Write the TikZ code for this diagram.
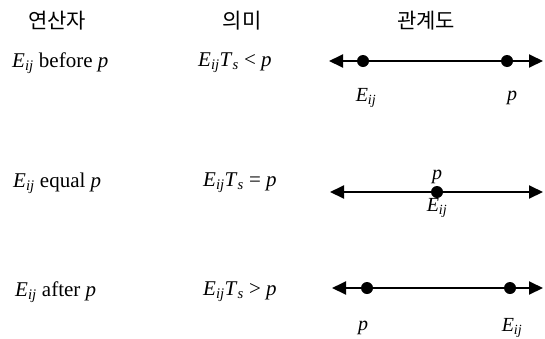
\documentclass[tikz,border=0pt]{standalone}
\usepackage{fontspec}
\setmainfont{Liberation Serif}
\newfontfamily\krfont{Noto Sans CJK KR}
\usetikzlibrary{arrows.meta,positioning}
\newcommand{\Eij}{\textit{E}\textsubscript{\textit{ij}}}
\newcommand{\Ts}{\textit{T}\textsubscript{\textit{s}}}

\begin{document}
\begin{tikzpicture}[x=1pt, y=-1pt,
  txt/.style={font=\fontsize{21}{24}\selectfont, inner sep=0pt},
  head/.style={font=\krfont\fontsize{21}{24}\selectfont, inner sep=0pt},
  lbl/.style={font=\fontsize{20}{24}\selectfont\itshape, inner sep=0pt},
  axis/.style={line width=1.9pt, {Triangle[length=14pt,width=13pt]}-{Triangle[length=14pt,width=13pt]}},
  pt/.style={fill, circle, minimum size=12pt, inner sep=0pt}]
\useasboundingbox (0,0) rectangle (545,338);
% ---- headers ----
\node[head] (hop)  at (57,21)  {연산자};
\node[head] (hmean) at (242,21) {의미};
\node[head] (hrel) at (426,21) {관계도};
% ---- before ----
\node[txt, anchor=west] (op1) at (12,63)  {\Eij{} before \textit{p}};
\node[txt, anchor=west] (mn1) at (198,63) {\Eij\Ts{} < \textit{p}};
\coordinate (l1) at (329,61);
\coordinate (r1) at (543,61);
\draw[axis] (l1) -- (r1);
\node[pt] (e1) at (363,61) {};
\node[pt] (p1) at (507,61) {};
\node[lbl] (le1) at (366,98) {\Eij};
\node[lbl] (lp1) at (512,98) {p};
% ---- equal ----
\node[txt, anchor=west] (op2) at (13,183)  {\Eij{} equal \textit{p}};
\node[txt, anchor=west] (mn2) at (203,183) {\Eij\Ts{} = \textit{p}};
\coordinate (l2) at (330,192);
\coordinate (r2) at (543,192);
\draw[axis] (l2) -- (r2);
\node[pt] (ep2) at (437,192) {};
\node[lbl] (lp2) at (437,177) {p};
\node[lbl] (le2) at (437,208) {\Eij};
% ---- after ----
\node[txt, anchor=west] (op3) at (15,292)  {\Eij{} after \textit{p}};
\node[txt, anchor=west] (mn3) at (203,292) {\Eij\Ts{} > \textit{p}};
\coordinate (l3) at (332,288);
\coordinate (r3) at (543,288);
\draw[axis] (l3) -- (r3);
\node[pt] (p3) at (367,288) {};
\node[pt] (e3) at (510,288) {};
\node[lbl] (lp3) at (363,328) {p};
\node[lbl] (le3) at (512,328) {\Eij};
\end{tikzpicture}
\end{document}
